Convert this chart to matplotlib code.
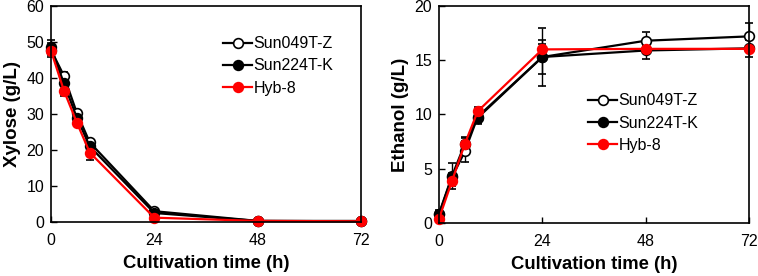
import matplotlib
matplotlib.use("Agg")
import matplotlib.pyplot as plt
from matplotlib.lines import Line2D

plt.rcParams['font.family'] = ['Liberation Sans', 'DejaVu Sans']

time_h = [0, 3, 6, 9, 24, 48, 72]
series_names = ["Sun049T-Z", "Sun224T-K", "Hyb-8"]

xylose_049 = [47.8, 40.6, 30.3, 22.1, 3.0, 0.3, 0.3]
xylose_049_err = [2.0, 1.0, 0.8, 1.0, 0.3, 0.1, 0.1]
xylose_224 = [48.5, 38.5, 29.0, 21.0, 2.5, 0.3, 0.2]
xylose_224_err = [2.0, 3.0, 1.0, 1.0, 0.3, 0.1, 0.1]
xylose_hyb = [47.6, 36.5, 27.6, 19.3, 1.2, 0.3, 0.2]
xylose_hyb_err = [1.0, 1.5, 1.0, 2.0, 0.3, 0.1, 0.1]

ethanol_049 = [0.8, 4.2, 6.6, 9.8, 15.3, 16.8, 17.2]
ethanol_049_err = [0.3, 0.4, 1.0, 0.6, 2.7, 0.8, 1.2]
ethanol_224 = [0.86, 4.3, 7.3, 9.7, 15.3, 15.9, 16.1]
ethanol_224_err = [0.3, 1.2, 0.6, 0.6, 1.6, 0.8, 0.8]
ethanol_hyb = [0.4, 3.85, 7.3, 10.3, 16.0, 16.05, 16.05]
ethanol_hyb_err = [0.2, 0.4, 0.5, 0.4, 0.5, 0.3, 0.3]

styles = [
    dict(color="black", mfc="white", mec="black"),
    dict(color="black", mfc="black", mec="black"),
    dict(color="#ff0000", mfc="#ff0000", mec="#ff0000"),
]

fig = plt.figure(figsize=(7.58, 2.76), dpi=100)
ax1 = fig.add_axes([51/758, 1-222/276, 310/758, 216/276])
ax2 = fig.add_axes([439/758, 1-223/276, 310/758, 217/276])

def draw(ax, ys, errs, ylim, yticks, ylabel, legend_anchor):
    handles = []
    for y, e, st, name in zip(ys, errs, styles, series_names):
        ax.errorbar(time_h, y, yerr=e, color=st["color"], ecolor="black",
                    elinewidth=1.0, capsize=3, capthick=1.0,
                    marker="o", markersize=7, mfc=st["mfc"], mec=st["mec"],
                    mew=1.2, lw=1.6, clip_on=False)
        handles.append(Line2D([], [], color=st["color"], marker="o", markersize=7,
                              mfc=st["mfc"], mec=st["mec"], mew=1.2, lw=1.6,
                              label=name))
    ax.set_xlim(0, 72)
    ax.set_ylim(*ylim)
    ax.set_xticks([0, 24, 48, 72])
    ax.set_yticks(yticks)
    ax.tick_params(direction="in", length=4, width=1, labelsize=11.5, pad=5)
    ax.tick_params(axis="x", pad=8)
    for sp in ax.spines.values():
        sp.set_linewidth(1.2)
    ax.set_xlabel("Cultivation time (h)", fontsize=13.3, fontweight="bold", labelpad=5)
    ax.set_ylabel(ylabel, fontsize=13.5, fontweight="bold", labelpad=4)
    ax.legend(handles=handles, loc="upper left", bbox_to_anchor=legend_anchor,
              frameon=False, fontsize=11.5, handlelength=1.8, handletextpad=0.1,
              borderaxespad=0, labelspacing=0.45)

draw(ax1, [xylose_049, xylose_224, xylose_hyb],
     [xylose_049_err, xylose_224_err, xylose_hyb_err],
     (0, 60), [0, 10, 20, 30, 40, 50, 60], "Xylose (g/L)", (0.535, 0.89))
draw(ax2, [ethanol_049, ethanol_224, ethanol_hyb],
     [ethanol_049_err, ethanol_224_err, ethanol_hyb_err],
     (0, 20), [0, 5, 10, 15, 20], "Ethanol (g/L)", (0.461, 0.627))

fig.savefig("out.png", dpi=100)
